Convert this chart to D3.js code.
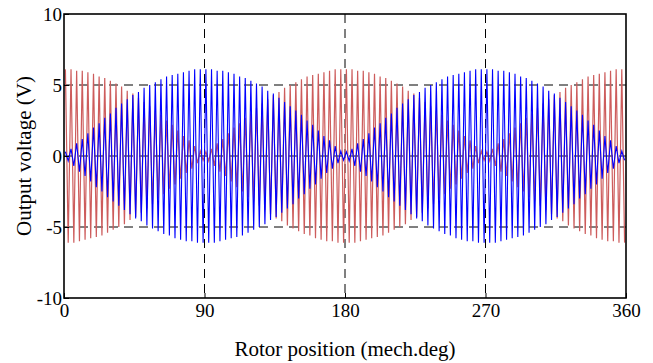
<!DOCTYPE html>
<html>
<head>
<meta charset="utf-8">
<script src="https://d3js.org/d3.v7.min.js"></script>
<style>
  body { margin: 0; background: #fff; }
  text { font-family: "Liberation Serif", "Times New Roman", serif; fill: #000; }
</style>
</head>
<body>
<svg width="653" height="363" id="chart"></svg>
<script>
// peak values (V), one every half carrier cycle (1.8 mech.deg apart, first at 0.9 deg)
var redVolts = [
  6.1,-6.1,6.1,-6.1,6.0,-6.0,6.0,-5.9,5.9,-5.8, 5.8,-5.7,5.6,-5.6,5.5,-5.4,5.3,-5.2,5.1,-5.0,
  4.9,-4.8,4.6,-4.5,4.4,-4.3,4.1,-4.0,3.8,-3.7, 3.5,-3.4,3.2,-3.0,2.9,-2.7,2.5,-2.3,2.2,-2.0,
  1.8,-1.6,1.4,-1.2,1.1,-0.9,0.7,-0.5,0.35,-0.3, 0.3,-0.35,0.5,-0.7,0.9,-1.1,1.2,-1.4,1.6,-1.8,
  2.0,-2.2,2.3,-2.5,2.7,-2.9,3.0,-3.2,3.4,-3.5, 3.7,-3.8,4.0,-4.1,4.3,-4.4,4.5,-4.6,4.8,-4.9,
  5.0,-5.1,5.2,-5.3,5.4,-5.5,5.6,-5.6,5.7,-5.8, 5.8,-5.9,5.9,-6.0,6.0,-6.0,6.1,-6.1,6.1,-6.1,
  6.1,-6.1,6.1,-6.1,6.0,-6.0,6.0,-5.9,5.9,-5.8, 5.8,-5.7,5.6,-5.6,5.5,-5.4,5.3,-5.2,5.1,-5.0,
  4.9,-4.8,4.6,-4.5,4.4,-4.3,4.1,-4.0,3.8,-3.7, 3.5,-3.4,3.2,-3.0,2.9,-2.7,2.5,-2.3,2.2,-2.0,
  1.8,-1.6,1.4,-1.2,1.1,-0.9,0.7,-0.5,0.35,-0.3, 0.3,-0.35,0.5,-0.7,0.9,-1.1,1.2,-1.4,1.6,-1.8,
  2.0,-2.2,2.3,-2.5,2.7,-2.9,3.0,-3.2,3.4,-3.5, 3.7,-3.8,4.0,-4.1,4.3,-4.4,4.5,-4.6,4.8,-4.9,
  5.0,-5.1,5.2,-5.3,5.4,-5.5,5.6,-5.6,5.7,-5.8, 5.8,-5.9,5.9,-6.0,6.0,-6.0,6.1,-6.1,6.1,-6.1
];
var blueVolts = [
  0.3,-0.35,0.5,-0.7,0.9,-1.1,1.2,-1.4,1.6,-1.8, 2.0,-2.2,2.3,-2.5,2.7,-2.9,3.0,-3.2,3.4,-3.5,
  3.7,-3.8,4.0,-4.1,4.3,-4.4,4.5,-4.6,4.8,-4.9, 5.0,-5.1,5.2,-5.3,5.4,-5.5,5.6,-5.6,5.7,-5.8,
  5.8,-5.9,5.9,-6.0,6.0,-6.0,6.1,-6.1,6.1,-6.1, 6.1,-6.1,6.1,-6.1,6.0,-6.0,6.0,-5.9,5.9,-5.8,
  5.8,-5.7,5.6,-5.6,5.5,-5.4,5.3,-5.2,5.1,-5.0, 4.9,-4.8,4.6,-4.5,4.4,-4.3,4.1,-4.0,3.8,-3.7,
  3.5,-3.4,3.2,-3.0,2.9,-2.7,2.5,-2.3,2.2,-2.0, 1.8,-1.6,1.4,-1.2,1.1,-0.9,0.7,-0.5,0.35,-0.3,
  0.3,-0.35,0.5,-0.7,0.9,-1.1,1.2,-1.4,1.6,-1.8, 2.0,-2.2,2.3,-2.5,2.7,-2.9,3.0,-3.2,3.4,-3.5,
  3.7,-3.8,4.0,-4.1,4.3,-4.4,4.5,-4.6,4.8,-4.9, 5.0,-5.1,5.2,-5.3,5.4,-5.5,5.6,-5.6,5.7,-5.8,
  5.8,-5.9,5.9,-6.0,6.0,-6.0,6.1,-6.1,6.1,-6.1, 6.1,-6.1,6.1,-6.1,6.0,-6.0,6.0,-5.9,5.9,-5.8,
  5.8,-5.7,5.6,-5.6,5.5,-5.4,5.3,-5.2,5.1,-5.0, 4.9,-4.8,4.6,-4.5,4.4,-4.3,4.1,-4.0,3.8,-3.7,
  3.5,-3.4,3.2,-3.0,2.9,-2.7,2.5,-2.3,2.2,-2.0, 1.8,-1.6,1.4,-1.2,1.1,-0.9,0.7,-0.5,0.35,-0.3
];
var rotorPos = redVolts.map(function(d, i) { return 0.9 + 1.8 * i; });
var xTicks = [0, 90, 180, 270, 360];
var yTicks = [-10, -5, 0, 5, 10];
var xGrid = [90, 180, 270];
var yGrid = [-5, 0, 5];

var plotL = 64, plotR = 626, plotT = 14, plotB = 298;
var svg = d3.select("#chart");

var x = d3.scaleLinear().domain([0, 360]).range([plotL, plotR]);
var y = d3.scaleLinear().domain([-10, 10]).range([plotB, plotT]);

// grid
svg.append("g").selectAll("line").data(xGrid).enter().append("line")
  .attr("x1", d => x(d)).attr("x2", d => x(d))
  .attr("y1", plotT).attr("y2", plotB)
  .attr("stroke", "#000").attr("stroke-width", 1)
  .attr("stroke-dasharray", "9,6");
svg.append("g").selectAll("line").data(yGrid).enter().append("line")
  .attr("x1", plotL).attr("x2", plotR)
  .attr("y1", d => y(d)).attr("y2", d => y(d))
  .attr("stroke", "#000").attr("stroke-width", 1)
  .attr("stroke-dasharray", "9,6");

var line = d3.line()
  .x(function(d, i) { return x(rotorPos[i]); })
  .y(function(d) { return y(d); });

svg.append("path")
  .datum(redVolts)
  .attr("d", line)
  .attr("fill", "none")
  .attr("stroke", "#cd5c5c")
  .attr("stroke-width", 1.2);

svg.append("path")
  .datum(blueVolts)
  .attr("d", line)
  .attr("fill", "none")
  .attr("stroke", "#0000ff")
  .attr("stroke-width", 1.1);

// axes
var fmt = function(d) { return String(d); };
var xAxis = svg.append("g")
  .attr("transform", "translate(0," + plotB + ")")
  .call(d3.axisBottom(x).tickValues(xTicks).tickSize(-5).tickPadding(6).tickFormat(fmt));
var yAxis = svg.append("g")
  .attr("transform", "translate(" + plotL + ",0)")
  .call(d3.axisLeft(y).tickValues(yTicks).tickSize(-5).tickPadding(2).tickFormat(fmt));
[xAxis, yAxis].forEach(function(a) {
  a.select(".domain").remove();
  a.selectAll("line").attr("stroke", "#000");
  a.selectAll("text").style("font-size", "19px").attr("font-family", null);
});

svg.append("rect")
  .attr("x", plotL).attr("y", plotT)
  .attr("width", plotR - plotL).attr("height", plotB - plotT)
  .attr("fill", "none").attr("stroke", "#000").attr("stroke-width", 1.6);

svg.append("text")
  .text("Rotor position (mech.deg)")
  .attr("x", (plotL + plotR) / 2)
  .attr("y", 356)
  .attr("text-anchor", "middle")
  .style("font-size", "21px");

svg.append("text")
  .text("Output voltage (V)")
  .attr("transform", "translate(31," + (plotT + plotB) / 2 + ") rotate(-90)")
  .attr("text-anchor", "middle")
  .style("font-size", "21px");
</script>
</body>
</html>
